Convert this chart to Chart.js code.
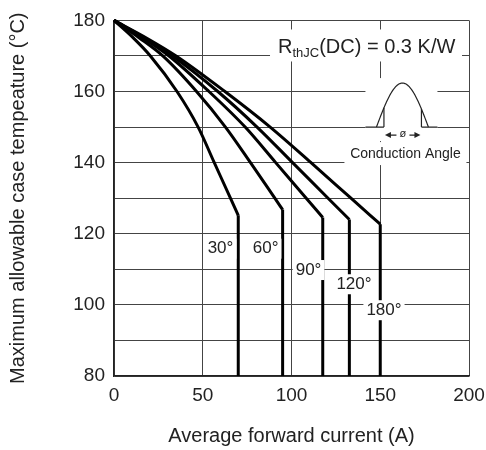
<!DOCTYPE html>
<html>
<head>
<meta charset="utf-8">
<script src="https://cdn.jsdelivr.net/npm/chart.js@4.4.1/dist/chart.umd.min.js"></script>
<style>
  html, body { margin: 0; padding: 0; background: #fff; }
</style>
</head>
<body>
<canvas id="chart" width="486" height="450"></canvas>
<script>
const tempLevels = [180, 175, 170, 160, 150, 140, 130];

// Average forward current (A) at each temperature level, per conduction angle
const current30 = [0, 11, 20.5, 35.5, 47.4, 56.5, 65.6];
const current60 = [0, 14.5, 27.5, 46.5, 62.8, 76.9, 90.6];
const current90 = [0, 16.5, 31, 53.5, 73.9, 91.1, 108.3];
const current120 = [0, 17.5, 33, 58.5, 80.6, 100.6, 120.6];
const current180 = [0, 18.5, 35, 62.5, 88, 111, 133.5];

// point where each curve stops bending and drops straight down
const kneeCurrent = [70, 95, 117.6, 132.6, 150];
const kneeTemp = [125.2, 126.8, 124.6, 124, 122.7];

const angleLabels = ['30°', '60°', '90°', '120°', '180°'];
const labelCurrent = [60, 85.4, 109.6, 135.2, 152.1];
const labelTemp = [115.8, 115.8, 109.8, 105.8, 98.5];

const xTicks = [0, 50, 100, 150, 200];
const yTicks = [80, 100, 120, 140, 160, 180];

const FONT = '"Liberation Sans", Arial, sans-serif';
const INK = '#222';

const allCurrents = [current30, current60, current90, current120, current180];
const datasets = [];
allCurrents.forEach((cur, i) => {
    const bend = tempLevels.map((t, j) => ({ x: cur[j], y: t }));
    bend.push({ x: kneeCurrent[i], y: kneeTemp[i] });
    datasets.push({
        label: angleLabels[i],
        data: bend,
        borderColor: '#000',
        borderWidth: 3,
        pointRadius: 0,
        cubicInterpolationMode: 'monotone',
        clip: false
    });
    // straight drop down to the bottom of the chart
    datasets.push({
        label: angleLabels[i] + ' drop',
        data: [{ x: kneeCurrent[i], y: kneeTemp[i] }, { x: kneeCurrent[i], y: 80 }],
        borderColor: '#000',
        borderWidth: 3,
        pointRadius: 0,
        tension: 0
    });
});

// white-backed text labels, Rth note and conduction angle sketch
const notesPlugin = {
    id: 'notes',
    afterDatasetsDraw(chart) {
        const { ctx, scales: { x, y } } = chart;
        ctx.save();

        // angle labels
        ctx.font = '17px ' + FONT;
        ctx.textAlign = 'center';
        ctx.textBaseline = 'middle';
        angleLabels.forEach((txt, i) => {
            const px = x.getPixelForValue(labelCurrent[i]);
            const py = y.getPixelForValue(labelTemp[i]);
            const w = ctx.measureText(txt).width;
            ctx.fillStyle = '#fff';
            ctx.fillRect(px - w / 2 - 3, py - 10, w + 6, 20);
            ctx.fillStyle = INK;
            ctx.fillText(txt, px, py);
        });

        // R_thJC(DC) = 0.3 K/W
        const rx = x.getPixelForValue(92.4);
        const ry = y.getPixelForValue(170.7);
        ctx.fillStyle = '#fff';
        ctx.fillRect(rx - 8, ry - 24, 192, 32);
        ctx.fillStyle = INK;
        ctx.textAlign = 'left';
        ctx.textBaseline = 'alphabetic';
        ctx.font = '20px ' + FONT;
        ctx.fillText('R', rx, ry);
        let cx = rx + ctx.measureText('R').width;
        ctx.font = '13px ' + FONT;
        ctx.fillText('thJC', cx, ry + 4);
        cx += ctx.measureText('thJC').width;
        ctx.font = '20px ' + FONT;
        ctx.fillText('(DC) = 0.3 K/W', cx, ry);

        // conduction angle sketch
        const mid = x.getPixelForValue(162.5);
        const base = y.getPixelForValue(150);
        ctx.fillStyle = '#fff';
        ctx.fillRect(mid - 37, base - 49, 72, 63);
        ctx.fillRect(mid - 58, base + 15, 122, 23);

        ctx.strokeStyle = INK;
        ctx.lineWidth = 1.2;
        const s0 = mid - 26, s1 = mid + 26, amp = 44;
        const sineAt = px => base - amp * Math.sin(Math.PI * (px - s0) / (s1 - s0));
        ctx.beginPath();
        for (let px = s0; px <= s1; px += 0.5) {
            if (px === s0) ctx.moveTo(px, sineAt(px));
            else ctx.lineTo(px, sineAt(px));
        }
        ctx.stroke();

        const c0 = mid - 18.5, c1 = mid + 19;
        ctx.beginPath();
        ctx.moveTo(mid - 37, base); ctx.lineTo(c0, base);
        ctx.moveTo(c1, base); ctx.lineTo(mid + 35, base);
        ctx.moveTo(c0, base); ctx.lineTo(c0, sineAt(c0));
        ctx.moveTo(c1, base); ctx.lineTo(c1, sineAt(c1));
        ctx.stroke();

        // arrows  |<- ø ->|
        const ay = base + 8;
        ctx.beginPath();
        ctx.moveTo(c0 + 5, ay); ctx.lineTo(mid - 6, ay);
        ctx.moveTo(mid + 7, ay); ctx.lineTo(c1 - 5, ay);
        ctx.stroke();
        ctx.fillStyle = INK;
        ctx.beginPath();
        ctx.moveTo(c0 + 1, ay); ctx.lineTo(c0 + 7, ay - 3); ctx.lineTo(c0 + 7, ay + 3);
        ctx.closePath(); ctx.fill();
        ctx.beginPath();
        ctx.moveTo(c1 - 1, ay); ctx.lineTo(c1 - 7, ay - 3); ctx.lineTo(c1 - 7, ay + 3);
        ctx.closePath(); ctx.fill();
        ctx.font = '11px ' + FONT;
        ctx.textAlign = 'center';
        ctx.textBaseline = 'middle';
        ctx.fillText('ø', mid + 0.5, ay - 1);

        ctx.font = '14px ' + FONT;
        ctx.fillText('Conduction Angle', mid + 3, base + 27);

        ctx.restore();
    }
};

new Chart(document.getElementById('chart'), {
    type: 'line',
    data: { datasets: datasets },
    options: {
        responsive: false,
        animation: false,
        devicePixelRatio: 1,
        layout: { padding: { top: 20, right: 17, left: 0, bottom: 0 } },
        plugins: {
            legend: { display: false },
            tooltip: { enabled: false }
        },
        scales: {
            x: {
                type: 'linear',
                min: 0,
                max: 200,
                afterBuildTicks: scale => { scale.ticks = xTicks.map(v => ({ value: v })); },
                afterFit: scale => {
                    scale.height = 74;
                    scale.paddingLeft = 0;
                    scale.paddingRight = 0;
                },
                ticks: { padding: 8, color: INK, maxRotation: 0, font: { family: FONT, size: 19 } },
                grid: { color: '#444', lineWidth: 1, drawTicks: false },
                border: { color: '#222', width: 1.5 },
                title: {
                    display: true,
                    text: 'Average forward current (A)',
                    color: INK,
                    font: { family: FONT, size: 20 },
                    padding: { top: 0, bottom: 2 }
                }
            },
            y: {
                min: 80,
                max: 180,
                afterFit: scale => { scale.width = 114; },
                ticks: {
                    stepSize: 10,
                    padding: 9,
                    color: INK,
                    font: { family: FONT, size: 19 },
                    callback: v => yTicks.includes(v) ? String(v) : ''
                },
                grid: { color: '#444', lineWidth: 1, drawTicks: false },
                border: { color: '#222', width: 1.5 },
                title: {
                    display: true,
                    text: 'Maximum allowable case tempeature (°C)',
                    color: INK,
                    font: { family: FONT, size: 20 },
                    padding: { top: 6, bottom: 0 }
                }
            }
        }
    },
    plugins: [notesPlugin]
});
</script>
</body>
</html>
